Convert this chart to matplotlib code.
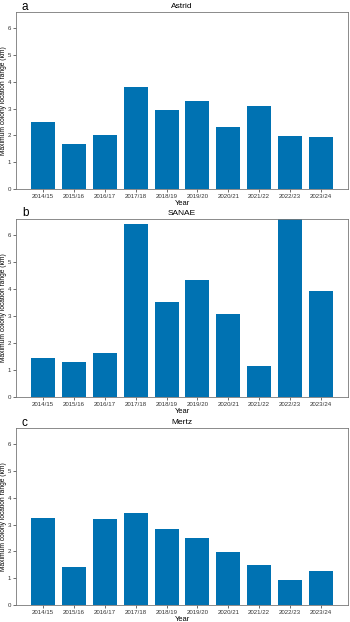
import matplotlib
matplotlib.use("Agg")
import matplotlib.pyplot as plt

plt.rcParams['font.family'] = ['Liberation Sans', 'DejaVu Sans']

years = ["2014/15", "2015/16", "2016/17", "2017/18", "2018/19",
         "2019/20", "2020/21", "2021/22", "2022/23", "2023/24"]
astrid = [2.49, 1.69, 2.01, 3.80, 2.94, 3.30, 2.30, 3.11, 1.96, 1.95]
sanae = [1.46, 1.30, 1.63, 6.42, 3.53, 4.33, 3.09, 1.16, 6.65, 3.94]
mertz = [3.26, 1.41, 3.22, 3.44, 2.83, 2.49, 1.99, 1.49, 0.95, 1.26]

panels = [("a", "Astrid", astrid), ("b", "SANAE", sanae), ("c", "Mertz", mertz)]

W, H = 350, 622
fig = plt.figure(figsize=(W / 100, H / 100), dpi=100)

boxes = [(16, 12, 189), (16, 219, 397), (16, 428, 605)]
right = 348
color = "#0072B2"

for (letter, title, vals), (l, t, b) in zip(panels, boxes):
    ax = fig.add_axes([l / W, 1 - b / H, (right - l) / W, (b - t) / H])
    ax.bar(years, vals, width=0.78, color=color)
    ax.set_ylim(0, 6.6)
    ax.set_yticks(range(0, 7))
    ax.tick_params(labelsize=4.4, length=2, width=0.5, pad=1.5, colors="#333333")
    for s in ax.spines.values():
        s.set_linewidth(0.6)
        s.set_color("#777777")
    ax.set_title(title, fontsize=6, pad=3)
    ax.set_xlabel("Year", fontsize=5.4, labelpad=0.5)
    ax.set_ylabel("Maximum colony location range (km)", fontsize=4.8)
    ax.yaxis.set_label_coords((7.5 - l) / (right - l), 0.5)
    ax.text(0.018, 1.0 + 2.5 / (b - t), letter, transform=ax.transAxes,
            fontsize=8.5, ha="left", va="baseline")

fig.savefig("out.png", dpi=100)
